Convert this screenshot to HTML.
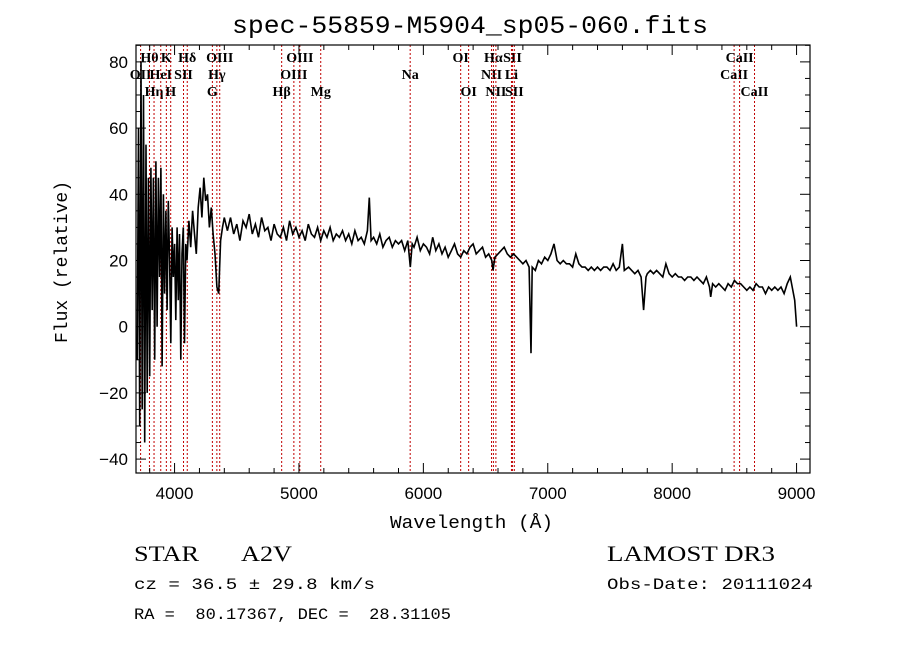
<!DOCTYPE html>
<html><head><meta charset="utf-8"><style>
body{margin:0;background:#fff;}
svg{display:block;}
</style></head><body>
<svg id="chart" width="900" height="649" xmlns="http://www.w3.org/2000/svg">
<rect width="900" height="649" fill="#fff"/>
<text x="232" y="33" textLength="476" lengthAdjust="spacingAndGlyphs" font-family="Liberation Mono, monospace" font-size="25">spec-55859-M5904_sp05-060.fits</text>
<g id="lines"></g>
<g id="plot"></g>
<g id="axes"></g>
<text x="390" y="528" textLength="163" lengthAdjust="spacingAndGlyphs" font-family="Liberation Mono, monospace" font-size="18">Wavelength (Å)</text>
<text transform="translate(67,262) rotate(-90)" font-family="Liberation Mono, monospace" font-size="18" text-anchor="middle">Flux (relative)</text>
<text x="134" y="561" font-family="Liberation Serif, serif" font-size="22" textLength="65" lengthAdjust="spacingAndGlyphs">STAR</text>
<text x="241" y="561" font-family="Liberation Serif, serif" font-size="22" textLength="51" lengthAdjust="spacingAndGlyphs">A2V</text>
<text x="134" y="589" textLength="241" lengthAdjust="spacingAndGlyphs" font-family="Liberation Mono, monospace" font-size="16">cz = 36.5 ± 29.8 km/s</text>
<text x="134" y="619" textLength="317" lengthAdjust="spacingAndGlyphs" font-family="Liberation Mono, monospace" font-size="16" xml:space="preserve">RA =  80.17367, DEC =  28.31105</text>
<text x="607" y="561" textLength="168" lengthAdjust="spacingAndGlyphs" font-family="Liberation Serif, serif" font-size="22">LAMOST DR3</text>
<text x="607" y="589" textLength="206" lengthAdjust="spacingAndGlyphs" font-family="Liberation Mono, monospace" font-size="16">Obs-Date: 20111024</text>
</svg>
<script>
const wave=[3700,3710,3720,3730,3740,3750,3760,3770,3780,3790,3800,3810,3820,3830,3840,3850,3860,3870,3880,3890,3900,3910,3920,3930,3940,3950,3960,3970,3980,3990,4000,4010,4020,4030,4040,4050,4060,4070,4080,4090,4100,
4115,4130,4145,4160,4175,4190,4205,4220,4235,4250,4265,4280,4295,4310,4325,4340,4355,4370,4385,4400,
4425,4450,4475,4500,4525,4550,4575,4600,4625,4650,4675,4700,4725,4750,4775,4800,4825,4850,4875,4900,4925,4950,4975,5000,5025,5050,5075,5100,5125,5150,5175,5200,5225,5250,5275,5300,5325,5350,5375,5400,5425,5450,5475,5500,5525,5550,5565,5580,5600,5625,5650,5675,5700,5725,5750,5775,5800,5825,5850,5875,5895,5910,5925,5950,5975,6000,
6025,6050,6075,6100,6125,6150,6175,6200,6225,6250,6275,6300,6325,6350,6375,6400,6425,6450,6475,6500,6525,6550,6560,6575,6600,6625,6650,6675,6700,6725,6750,6775,6800,6825,6850,6865,6875,6900,6925,6950,6975,7000,7025,7050,7075,7100,7125,7150,7175,7200,7225,7250,7275,7300,7325,7350,7375,7400,7425,7450,7475,7500,7525,7550,7575,7600,7615,7650,7675,7700,7725,7750,7770,7790,7800,7825,7850,7875,7900,7925,7950,7975,8000,8025,8050,8075,8100,8125,8150,8175,8200,8225,8250,8275,8300,8310,8325,8350,8375,8400,8425,8450,8475,8500,8525,8550,8575,8600,8625,8650,8675,8700,8725,8750,8775,8800,8825,8850,8875,8900,8925,8950,8965,8985,8995,9000];
const flux=[-10,60,-30,80,-25,70,-35,55,-20,45,-15,48,5,45,-10,50,0,45,15,48,-12,40,10,35,5,38,20,-5,30,15,25,2,30,8,28,-10,22,30,-5,25,20,
32,24,35,28,22,36,42,33,45,38,40,30,36,28,22,12,10,26,30,33,
29,33,28,31,26,32,30,34,28,31,27,33,29,30,26,31,28,27,30,26,32,28,30,27,29,26,31,28,27,30,26,29,27,30,26,28,27,29,26,28,25,29,26,27,25,29,39,26,27,25,28,24,26,27,24,26,25,26,23,26,18,25,24,27,23,25,
24,22,27,23,25,22,24,21,23,25,22,21,23,22,24,25,22,23,24,21,22,20,17,21,22,23,24,22,21,22,21,20,19,20,18,-8,18,17,20,19,21,20,22,25,20,19,20,19,19,18,22,19,18,18,17,18,17,18,17,18,18,17,19,17,18,25,17,18,17,16,17,15,5,15,16,17,16,17,16,15,19,16,15,16,15,15,14,15,15,14,15,14,13,15,12,9,13,12,13,12,11,13,12,14,13,13,12,11,12,11,13,12,12,10,12,11,12,11,12,10,13,15,12,8,3,0];
const lineWaves=[3727,3798,3835,3889,3934,3969,4072,4102,4304,4340,4363,4861,4959,5007,5175,5894,6300,6364,6548,6563,6583,6708,6716,6731,8498,8542,8662];
const lineNames=["OII","Hθ","Hη","HeI","K","H","SII","Hδ","G","Hγ","OIII","Hβ","OIII","OIII","Mg","Na","OI","OI","NII","Hα","NII","Li","SII","SII","CaII","CaII","CaII"];
const lineRows=[2,1,3,2,1,3,2,1,3,2,1,3,2,1,3,2,1,3,2,1,3,2,1,3,2,1,3];
const xTicks=[4000,5000,6000,7000,8000,9000];
const yTicks=[-40,-20,0,20,40,60,80];

const L=136,R=810,T=45,B=473;
const xmin=3690,xmax=9108,ymin=-44.2,ymax=85.1;
const X=w=>L+(w-xmin)/(xmax-xmin)*(R-L);
const Y=f=>B-(f-ymin)/(ymax-ymin)*(B-T);
const NS="http://www.w3.org/2000/svg";
function mk(tag,attrs,parent){const e=document.createElementNS(NS,tag);for(const k in attrs)e.setAttribute(k,attrs[k]);parent.appendChild(e);return e;}
const gL=document.getElementById('lines'),gP=document.getElementById('plot'),gA=document.getElementById('axes');
const rowY={1:62,2:79,3:96};
lineWaves.forEach((w,i)=>{
  const ln=mk('line',{x1:X(w),x2:X(w),y1:T,y2:B,stroke:'#c00000','stroke-width':1,'stroke-dasharray':'2,2'},gL);
  
  
  const t=mk('text',{x:X(w),y:rowY[lineRows[i]],'font-family':'Liberation Serif, serif','font-size':14,'font-weight':'bold','text-anchor':'middle'},gL);
  t.textContent=lineNames[i];
  
  
});
let d='';
wave.forEach((w,i)=>{const x=X(w),y=Math.max(T,Math.min(B,Y(flux[i])));d+=(i?'L':'M')+x.toFixed(1)+','+y.toFixed(1);});
const path=mk('path',{d:d,fill:'none',stroke:'#000','stroke-width':1.6},gP);


const box=mk('rect',{x:L,y:T,width:R-L,height:B-T,fill:'none',stroke:'#000','stroke-width':1.2},gA);


for(let w=3800;w<=9100;w+=200){
  const maj=w%1000===0,len=maj?10:5;
  mk('line',{x1:X(w),x2:X(w),y1:B,y2:B-len,stroke:'#000'},gA);
  mk('line',{x1:X(w),x2:X(w),y1:T,y2:T+len,stroke:'#000'},gA);
}
xTicks.forEach(w=>{const t=mk('text',{x:X(w),y:B+26,'font-family':'Liberation Sans, sans-serif','font-size':17,'text-anchor':'middle'},gA);t.textContent=w;

});
for(let f=-40;f<=85;f+=5){
  const maj=f%20===0,len=maj?10:5;
  mk('line',{x1:L,x2:L+len,y1:Y(f),y2:Y(f),stroke:'#000'},gA);
  mk('line',{x1:R,x2:R-len,y1:Y(f),y2:Y(f),stroke:'#000'},gA);
}
yTicks.forEach(f=>{const t=mk('text',{x:L-8,y:Y(f)+6,'font-family':'Liberation Sans, sans-serif','font-size':17,'text-anchor':'end'},gA);t.textContent=f<0?'\u2212'+(-f):f;

});
</script>
</body></html>
